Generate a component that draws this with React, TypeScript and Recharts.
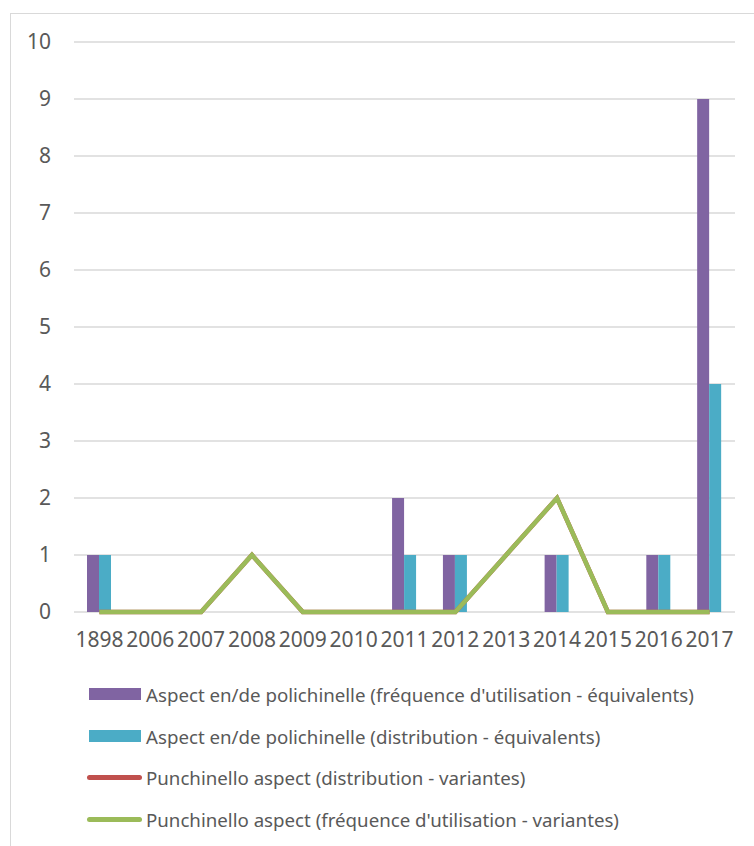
import React from "react";
import {
  ComposedChart,
  Bar,
  Line,
  XAxis,
  YAxis,
  CartesianGrid,
} from "recharts";

const years = ["1898", "2006", "2007", "2008", "2009", "2010", "2011", "2012", "2013", "2014", "2015", "2016", "2017"];
const freqEquiv = [1, 0, 0, 0, 0, 0, 2, 1, 0, 1, 0, 1, 9];
const distEquiv = [1, 0, 0, 0, 0, 0, 1, 1, 0, 1, 0, 1, 4];
const distVar = [0, 0, 0, 1, 0, 0, 0, 0, 1, 2, 0, 0, 0];
const freqVar = [0, 0, 0, 1, 0, 0, 0, 0, 1, 2, 0, 0, 0];
const yTicks = [0, 1, 2, 3, 4, 5, 6, 7, 8, 9, 10];

const labels = {
  freqEquiv: "Aspect en/de polichinelle (fréquence d'utilisation - équivalents)",
  distEquiv: "Aspect en/de polichinelle (distribution - équivalents)",
  distVar: "Punchinello aspect (distribution - variantes)",
  freqVar: "Punchinello aspect (fréquence d'utilisation - variantes)",
};

const colors = {
  freqEquiv: "#8064A2",
  distEquiv: "#4BACC6",
  distVar: "#C0504D",
  freqVar: "#9BBB59",
};

const data = years.map((year, i) => ({
  year,
  freqEquiv: freqEquiv[i] || null,
  distEquiv: distEquiv[i] || null,
  distVar: distVar[i],
  freqVar: freqVar[i],
}));

const font = "'Noto Sans', 'Open Sans', sans-serif";
const textColor = "#595959";

function LegendBox() {
  const items: { key: keyof typeof labels; kind: "rect" | "line"; top: number }[] = [
    { key: "freqEquiv", kind: "rect", top: 694 },
    { key: "distEquiv", kind: "rect", top: 736 },
    { key: "distVar", kind: "line", top: 777 },
    { key: "freqVar", kind: "line", top: 819 },
  ];
  return (
    <>
      {items.map((it) => (
        <div
          key={it.key}
          style={{
            position: "absolute",
            left: 87,
            top: it.top - 13,
            height: 26,
            display: "flex",
            alignItems: "center",
            fontFamily: font,
            fontSize: 18.7,
            color: textColor,
            whiteSpace: "nowrap",
          }}
        >
          {it.kind === "rect" ? (
            <span style={{ display: "inline-block", width: 52, height: 12, marginLeft: 2, marginRight: 5, background: colors[it.key] }} />
          ) : (
            <span style={{ display: "inline-block", width: 55, height: 5, borderRadius: 3, marginRight: 4, background: colors[it.key] }} />
          )}
          <span>{labels[it.key]}</span>
        </div>
      ))}
    </>
  );
}

export default function App() {
  return (
    <div style={{ position: "absolute", left: 0, top: 0, width: 754, height: 846, background: "#fff", overflow: "hidden" }}>
      <div style={{ position: "absolute", left: 10, top: 13, width: 760, height: 850, border: "1px solid #d9d9d9", boxSizing: "border-box" }} />
      <div style={{ position: "absolute", left: 0, top: 0 }}>
        <ComposedChart
          width={754}
          height={846}
          data={data}
          margin={{ top: 42, right: 19, left: 14, bottom: 194 }}
          barGap={0}
          barSize={12}
        >
          <CartesianGrid vertical={false} stroke="#d9d9d9" strokeWidth={1.3} />
          <XAxis
            dataKey="year"
            height={40}
            axisLine={false}
            tickLine={false}
            tickSize={0}
            tickMargin={20}
            interval={0}
            tick={{ fill: textColor, fontSize: 21, fontFamily: font }}
          />
          <YAxis
            width={60}
            domain={[0, 10]}
            ticks={yTicks}
            axisLine={false}
            tickLine={false}
            tickSize={0}
            tickMargin={23}
            tick={{ fill: textColor, fontSize: 21, fontFamily: font }}
          />
          <Bar dataKey="freqEquiv" name={labels.freqEquiv} fill={colors.freqEquiv} isAnimationActive={false} />
          <Bar dataKey="distEquiv" name={labels.distEquiv} fill={colors.distEquiv} isAnimationActive={false} />
          <Line
            type="linear"
            dataKey="distVar"
            name={labels.distVar}
            stroke={colors.distVar}
            strokeWidth={4.5}
            dot={false}
            activeDot={false}
            isAnimationActive={false}
          />
          <Line
            type="linear"
            dataKey="freqVar"
            name={labels.freqVar}
            stroke={colors.freqVar}
            strokeWidth={4.5}
            dot={false}
            activeDot={false}
            isAnimationActive={false}
          />
        </ComposedChart>
      </div>
      <LegendBox />
    </div>
  );
}
